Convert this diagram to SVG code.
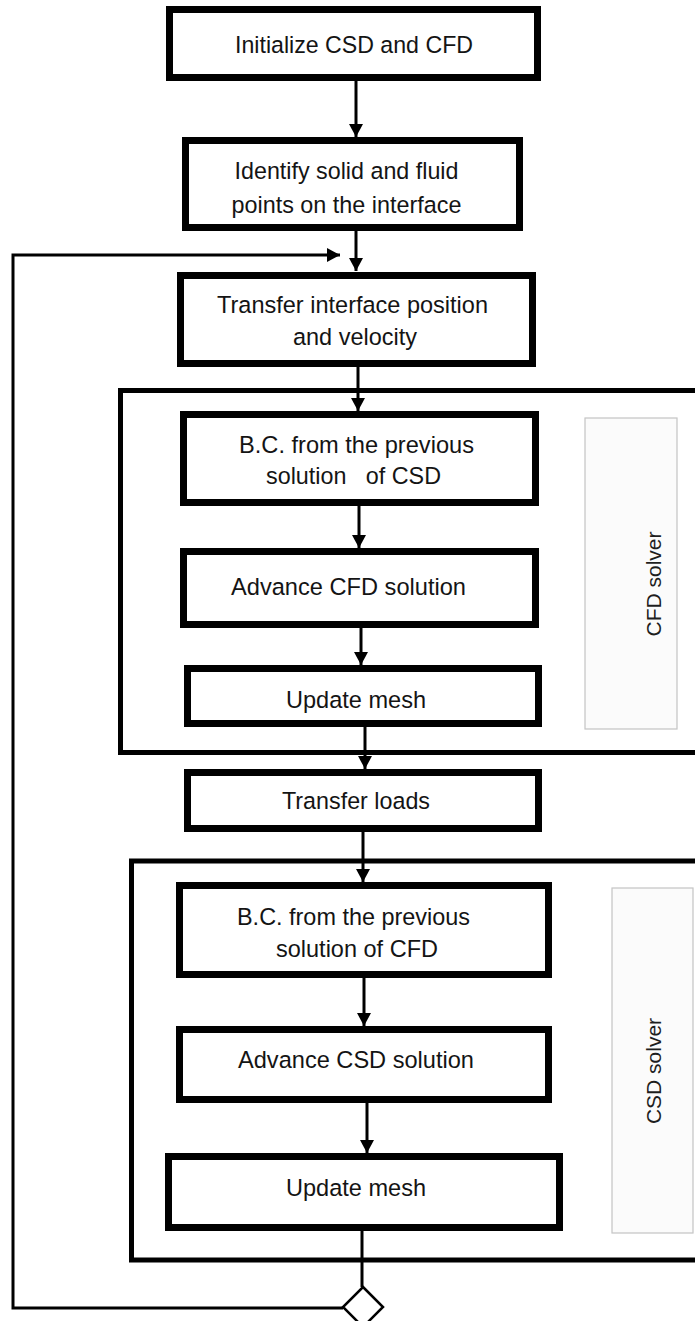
<svg xmlns="http://www.w3.org/2000/svg" width="695" height="1321" viewBox="0 0 695 1321">
<style>
.box{fill:#ffffff;stroke:#000000;stroke-width:7}
.cont{fill:none;stroke:#000000;stroke-width:5}
.solver{fill:#fbfbfb;stroke:#c4c4c4;stroke-width:1.2}
.lbl{font-family:"Liberation Sans",Arial,sans-serif;font-size:24.5px;fill:#141414;text-anchor:middle}
.slbl{font-family:"Liberation Sans",Arial,sans-serif;font-size:21px;fill:#1e1e1e;text-anchor:middle}
.con{fill:none;stroke:#000000;stroke-width:3}
</style>
<defs>
<marker id="arr" markerUnits="userSpaceOnUse" markerWidth="14" markerHeight="14" refX="13" refY="7" orient="auto">
<path d="M0,0 L13,7 L0,14 z" fill="#000000"/>
</marker>
</defs>
<rect width="695" height="1321" fill="#ffffff"/>

<g id="containers">
<g id="cfd-solver-group">
<rect class="cont" x="120.5" y="390.5" width="600" height="362"/>
<rect class="solver" x="585" y="418" width="92" height="311"/>
<text class="slbl" transform="translate(661,584) rotate(-90)">CFD solver</text>
</g>
<g id="csd-solver-group">
<rect class="cont" x="131.5" y="861" width="600" height="399"/>
<rect class="solver" x="612" y="888" width="81" height="345"/>
<text class="slbl" transform="translate(661,1071) rotate(-90)">CSD solver</text>
</g>
</g>

<g id="connectors">
<line class="con" x1="356" y1="81" x2="356" y2="137" marker-end="url(#arr)"/>
<line class="con" x1="356" y1="231" x2="356" y2="271" marker-end="url(#arr)"/>
<line class="con" x1="358" y1="367" x2="358" y2="411" marker-end="url(#arr)"/>
<line class="con" x1="359" y1="506" x2="359" y2="548" marker-end="url(#arr)"/>
<line class="con" x1="361" y1="628" x2="361" y2="665" marker-end="url(#arr)"/>
<line class="con" x1="365" y1="727" x2="365" y2="769" marker-end="url(#arr)"/>
<line class="con" x1="363" y1="832" x2="363" y2="882" marker-end="url(#arr)"/>
<line class="con" x1="364" y1="978" x2="364" y2="1026" marker-end="url(#arr)"/>
<line class="con" x1="367" y1="1103" x2="367" y2="1153" marker-end="url(#arr)"/>
<line class="con" x1="362" y1="1231" x2="362" y2="1287"/>
<polyline class="con" points="343,1308 13,1308 13,255 340,255" marker-end="url(#arr)"/>
</g>

<g id="n1">
<rect class="box" x="169.5" y="9.5" width="368" height="68"/>
<text class="lbl" x="354" y="53" textLength="238" lengthAdjust="spacingAndGlyphs">Initialize CSD and CFD</text>
</g>
<g id="n2">
<rect class="box" x="185.5" y="140.5" width="334" height="87"/>
<text class="lbl" x="346.5" y="179" textLength="224" lengthAdjust="spacingAndGlyphs">Identify solid and fluid</text>
<text class="lbl" x="346.5" y="213" textLength="230" lengthAdjust="spacingAndGlyphs">points on the interface</text>
</g>
<g id="n3">
<rect class="box" x="180.5" y="275.5" width="352" height="88"/>
<text class="lbl" x="352.5" y="313" textLength="271" lengthAdjust="spacingAndGlyphs">Transfer interface position</text>
<text class="lbl" x="355" y="345" textLength="124" lengthAdjust="spacingAndGlyphs">and velocity</text>
</g>
<g id="n4">
<rect class="box" x="183.5" y="414.5" width="352" height="88"/>
<text class="lbl" x="356.5" y="453" textLength="235" lengthAdjust="spacingAndGlyphs">B.C. from the previous</text>
<text class="lbl" x="353.5" y="484" xml:space="preserve" style="white-space:pre" textLength="175" lengthAdjust="spacingAndGlyphs">solution   of CSD</text>
</g>
<g id="n5">
<rect class="box" x="183.5" y="551.5" width="352" height="73"/>
<text class="lbl" x="348.5" y="595" textLength="235" lengthAdjust="spacingAndGlyphs">Advance CFD solution</text>
</g>
<g id="n6">
<rect class="box" x="187.5" y="668.5" width="351" height="55"/>
<text class="lbl" x="356" y="708" textLength="140" lengthAdjust="spacingAndGlyphs">Update mesh</text>
</g>
<g id="n7">
<rect class="box" x="187.5" y="772.5" width="351" height="56"/>
<text class="lbl" x="356" y="809" textLength="148" lengthAdjust="spacingAndGlyphs">Transfer loads</text>
</g>
<g id="n8">
<rect class="box" x="179.5" y="885.5" width="369" height="89"/>
<text class="lbl" x="353.5" y="925" textLength="233" lengthAdjust="spacingAndGlyphs">B.C. from the previous</text>
<text class="lbl" x="357" y="957" textLength="162" lengthAdjust="spacingAndGlyphs">solution of CFD</text>
</g>
<g id="n9">
<rect class="box" x="179.5" y="1029.5" width="369" height="70"/>
<text class="lbl" x="356" y="1068" textLength="236" lengthAdjust="spacingAndGlyphs">Advance CSD solution</text>
</g>
<g id="n10">
<rect class="box" x="168.5" y="1156.5" width="391" height="71"/>
<text class="lbl" x="356" y="1196" textLength="140" lengthAdjust="spacingAndGlyphs">Update mesh</text>
</g>
<g id="decision">
<polygon points="363,1287 383,1307 363,1327 343,1307" fill="#ffffff" stroke="#000000" stroke-width="2.5"/>
</g>
</svg>
